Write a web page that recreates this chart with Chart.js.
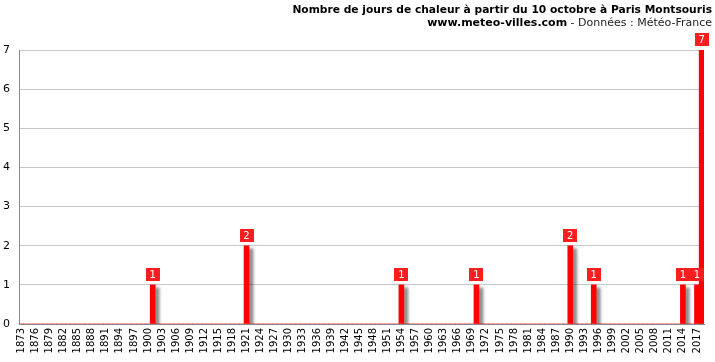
<!DOCTYPE html>
<html>
<head>
<meta charset="utf-8">
<script src="https://cdn.jsdelivr.net/npm/chart.js@4.4.1/dist/chart.umd.min.js"></script>
<style>
    html, body { margin: 0; padding: 0; background: #fff; }
    #wrap { width: 715px; height: 362px; }
</style>
</head>
<body>
<div id="wrap"><canvas id="heatChart" width="715" height="362"></canvas></div>
<script>
const FIRST_YEAR = 1873;
const LAST_YEAR = 2018;

// jours de chaleur après le 10 octobre, une valeur par an (1873 -> 2018)
const hotDays = [
    0, 0, 0, 0, 0, 0, 0, 0, 0, 0,   // 1873-1882
    0, 0, 0, 0, 0, 0, 0, 0, 0, 0,   // 1883-1892
    0, 0, 0, 0, 0, 0, 0, 0, 1, 0,   // 1893-1902
    0, 0, 0, 0, 0, 0, 0, 0, 0, 0,   // 1903-1912
    0, 0, 0, 0, 0, 0, 0, 0, 2, 0,   // 1913-1922
    0, 0, 0, 0, 0, 0, 0, 0, 0, 0,   // 1923-1932
    0, 0, 0, 0, 0, 0, 0, 0, 0, 0,   // 1933-1942
    0, 0, 0, 0, 0, 0, 0, 0, 0, 0,   // 1943-1952
    0, 1, 0, 0, 0, 0, 0, 0, 0, 0,   // 1953-1962
    0, 0, 0, 0, 0, 0, 0, 1, 0, 0,   // 1963-1972
    0, 0, 0, 0, 0, 0, 0, 0, 0, 0,   // 1973-1982
    0, 0, 0, 0, 0, 0, 0, 2, 0, 0,   // 1983-1992
    0, 0, 1, 0, 0, 0, 0, 0, 0, 0,   // 1993-2002
    0, 0, 0, 0, 0, 0, 0, 0, 0, 0,   // 2003-2012
    0, 1, 0, 0, 1, 7                // 2013-2018
];

const yTicks = [0, 1, 2, 3, 4, 5, 6, 7];
const TICK_STEP = 3;

const titleLine = "Nombre de jours de chaleur à partir du 10 octobre à Paris Montsouris";
const siteName = "www.meteo-villes.com";
const sourceText = " - Données : Météo-France";

const years = [];
for (let y = FIRST_YEAR; y <= LAST_YEAR; y++) years.push(String(y));

const FONT = "'DejaVu Sans'";


const headerPlugin = {
    id: "header",
    afterDraw(chart) {
        const ctx = chart.ctx;
        const right = 712;
        ctx.save();
        ctx.textAlign = "right";
        ctx.textBaseline = "alphabetic";

        ctx.fillStyle = "#000";
        ctx.font = "bold 10.7px " + FONT;
        ctx.fillText(titleLine, right, 13);

        ctx.font = "11px " + FONT;
        ctx.fillStyle = "#222";
        ctx.fillText(sourceText, right, 26);
        const w = ctx.measureText(sourceText).width;

        ctx.font = "bold 11px " + FONT;
        ctx.fillStyle = "#000";
        ctx.fillText(siteName, right - w, 26);
        ctx.restore();
    }
};

// ombre grise à droite des barres
const shadowPlugin = {
    id: "barShadow",
    beforeDatasetsDraw(chart) {
        const ctx = chart.ctx;
        ctx.save();
        ctx.shadowColor = "rgba(0,0,0,0.45)";
        ctx.shadowOffsetX = 4;
        ctx.shadowOffsetY = 3;
        ctx.shadowBlur = 3;
    },
    afterDatasetsDraw(chart) {
        chart.ctx.restore();
    }
};

const valueLabels = {
    id: "valueLabels",
    afterDatasetsDraw(chart) {
        const ctx = chart.ctx;
        const meta = chart.getDatasetMeta(0);
        ctx.save();
        ctx.font = "10px " + FONT;
        ctx.textAlign = "center";
        ctx.textBaseline = "middle";
        meta.data.forEach((bar, i) => {
            const v = hotDays[i];
            if (!v) return;
            const boxW = 14, boxH = 13;
            const bottom = Math.round(bar.y) - 4;
            ctx.fillStyle = "#fa1e1e";
            ctx.fillRect(Math.round(bar.x - boxW / 2), bottom - boxH, boxW, boxH);
            ctx.fillStyle = "#fff";
            ctx.fillText(String(v), bar.x, bottom - boxH / 2 + 0.5);
        });
        ctx.restore();
    }
};


new Chart(document.getElementById("heatChart"), {
    type: "bar",
    data: {
        labels: years,
        datasets: [{
            data: hotDays,
            backgroundColor: "#ff0000",
            borderWidth: 0,
            barThickness: 5
        }]
    },
    options: {
        responsive: false,
        animation: false,
        devicePixelRatio: 1,
        layout: {
            padding: { top: 50, right: 11, left: 0, bottom: 0 }
        },
        plugins: {
            legend: { display: false },
            tooltip: { enabled: false },
            title: { display: false }
        },
        scales: {
            x: {
                grid: { display: false, drawTicks: false },
                border: { display: true, color: "#888", width: 1 },
                ticks: {
                    autoSkip: false,
                    minRotation: 90,
                    maxRotation: 90,
                    padding: 4,
                    color: "#000",
                    font: { family: FONT, size: 10 },
                    callback: function(value, index) {
                        return index % TICK_STEP === 0 ? years[index] : "";
                    }
                },
                afterFit(scale) {
                    scale.height = 38;
                    scale.paddingLeft = 0;
                    scale.paddingRight = 0;
                }
            },
            y: {
                min: 0,
                max: 7,
                afterBuildTicks(scale) {
                    scale.ticks = yTicks.map(v => ({ value: v }));
                },
                grid: { color: "#c8c8c8", drawTicks: false },
                border: { display: true, color: "#888", width: 1 },
                ticks: {
                    padding: 9,
                    color: "#000",
                    font: { family: FONT, size: 11 }
                },
                afterFit(scale) {
                    scale.width = 19;
                    scale.paddingTop = 0;
                    scale.paddingBottom = 0;
                }
            }
        }
    },
    plugins: [shadowPlugin, valueLabels, headerPlugin]
});
</script>
</body>
</html>
